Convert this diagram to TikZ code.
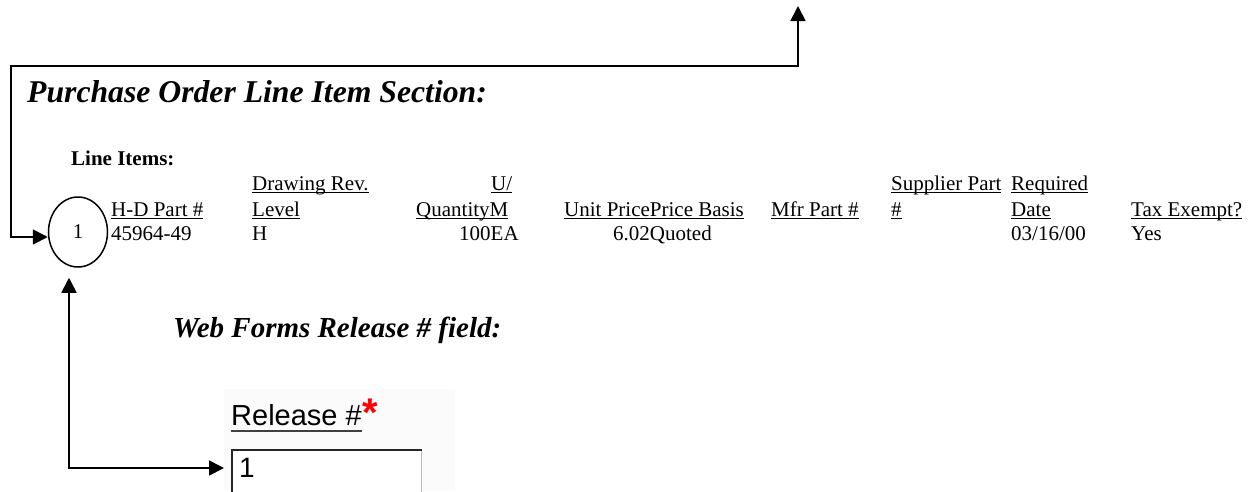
\documentclass[tikz,border=0pt]{standalone}
\usepackage{fontspec}
\setmainfont{Liberation Serif}
\newfontfamily\relfont{Liberation Sans}
\usetikzlibrary{arrows.meta,shapes.geometric}
\newcommand\ulx[1]{\setbox0\hbox{#1}\rlap{\rule[-3.4pt]{\wd0}{1.2pt}}\box0}
\begin{document}
\begin{tikzpicture}[x=1pt,y=-1pt,
  >={Triangle[length=15pt,width=15pt]},
  txt/.style={anchor=base west,inner sep=0pt,font=\fontsize{21}{24}\selectfont},
  conn/.style={line width=1.8pt,<->},
  ttl/.style={anchor=base west,inner sep=0pt,font=\fontsize{#1}{#1}\selectfont\bfseries\itshape},
  sans/.style={anchor=base west,inner sep=0pt,font=\relfont\fontsize{#1}{#1}\selectfont}]
\useasboundingbox (0,0) rectangle (1254,491);
% titles
\node[ttl=31.7] (title) at (27,102) {Purchase Order Line Item Section:};
\node[txt,font=\fontsize{21}{24}\selectfont\bfseries] (li) at (71,165) {Line Items:};
% ellipse
\node[ellipse,draw,line width=1.5pt,minimum width=59pt,minimum height=70pt,inner sep=0pt,font=\fontsize{21}{24}\selectfont] (ell) at (78,232) {1};
% header row 1
\node[txt] (h1a) at (252,190) {\ulx{Drawing Rev.}};
\node[txt] (h1b) at (491,190) {\ulx{U/}};
\node[txt] (h1c) at (891,190) {\ulx{Supplier Part}};
\node[txt] (h1d) at (1011,190) {\ulx{Required}};
% header row 2
\node[txt] (h2a) at (111,216) {\ulx{H-D Part \#}};
\node[txt] (h2b) at (252,216) {\ulx{Level}};
\node[txt] (h2c) at (416,216) {\ulx{QuantityM}};
\node[txt] (h2d) at (564,216) {\ulx{Unit PricePrice Basis}};
\node[txt] (h2e) at (771,216) {\ulx{Mfr Part \#}};
\node[txt] (h2f) at (891,216) {\ulx{\#}};
\node[txt] (h2g) at (1011,216) {\ulx{Date}};
\node[txt] (h2h) at (1131,216) {\ulx{Tax Exempt?}};
% data row
\node[txt] (d1) at (111,240) {45964-49};
\node[txt] (d2) at (252,240) {H};
\node[txt] (d3) at (459,240) {100EA};
\node[txt] (d4) at (613,240) {6.02Quoted};
\node[txt] (d5) at (1011,240) {03/16/00};
\node[txt] (d6) at (1131,240) {Yes};
% web forms
\node[ttl=29] (webtitle) at (173,337) {Web Forms Release \# field:};
\fill[black!1.5] (224,389) rectangle (455,491);
\node[sans=29] (rellab) at (231,425) {Release \#};
\draw[line width=1.5pt,black!75] ([yshift=-6pt]rellab.base west) -- ([yshift=-6pt]rellab.base east);
\node[anchor=base west,inner sep=0pt,text=red,font=\relfont\bfseries\fontsize{40}{40}\selectfont] (ast) at (362,426) {*};
\node[draw=black!25,fill=white,line width=1pt,anchor=north west,minimum width=189pt,minimum height=60pt,inner sep=0pt] (relbox) at (232,450) {};
\draw[line width=2.5pt,black!85] (relbox.south west) -- (relbox.north west) -- (relbox.north east);
\node[sans=28] (relval) at (239,477) {1};
% connectors
\coordinate (topend) at (798,6);
\coordinate (c1) at (11,66);
\draw[conn] (topend) |- (c1) |- ([yshift=-5pt]ell.west);
\draw[conn,shorten >=8pt] ([xshift=-9pt,yshift=-10pt]ell.south) |- ([yshift=-18pt]relbox.north west);
\end{tikzpicture}
\end{document}
